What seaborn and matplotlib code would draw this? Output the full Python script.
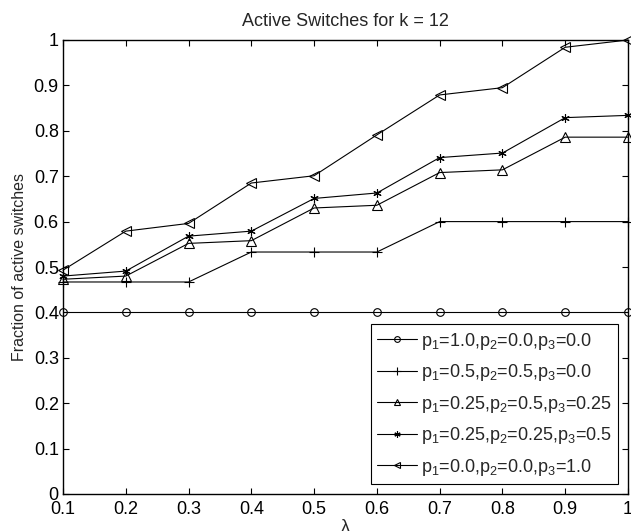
import matplotlib
matplotlib.use("Agg")
import matplotlib.pyplot as plt
import seaborn as sns
import pandas as pd
from matplotlib.ticker import FuncFormatter

lam = [0.1, 0.2, 0.3, 0.4, 0.5, 0.6, 0.7, 0.8, 0.9, 1.0]
s_circle = [0.4, 0.4, 0.4, 0.4, 0.4, 0.4, 0.4, 0.4, 0.4, 0.4]
s_plus = [0.467, 0.467, 0.467, 0.533, 0.533, 0.533, 0.6, 0.6, 0.6, 0.6]
s_tri = [0.473, 0.48, 0.552, 0.558, 0.630, 0.636, 0.708, 0.714, 0.786, 0.786]
s_star = [0.48, 0.491, 0.568, 0.579, 0.651, 0.663, 0.741, 0.751, 0.829, 0.834]
s_left = [0.493, 0.579, 0.596, 0.685, 0.701, 0.791, 0.879, 0.895, 0.984, 1.0]

labels = [r"p$_1$=1.0,p$_2$=0.0,p$_3$=0.0",
          r"p$_1$=0.5,p$_2$=0.5,p$_3$=0.0",
          r"p$_1$=0.25,p$_2$=0.5,p$_3$=0.25",
          r"p$_1$=0.25,p$_2$=0.25,p$_3$=0.5",
          r"p$_1$=0.0,p$_2$=0.0,p$_3$=1.0"]
series = [s_circle, s_plus, s_tri, s_star, s_left]
markers = ["o", "+", "^", (6, 2, 0), "<"]
msizes = [5.5, 7, 6.5, 6, 6.5]

sns.set_theme(style="ticks")
plt.rcParams["font.family"] = ["Liberation Sans", "DejaVu Sans"]
plt.rcParams["mathtext.fontset"] = "custom"
plt.rcParams["mathtext.rm"] = "Liberation Sans"
plt.rcParams["mathtext.it"] = "Liberation Sans:italic"
plt.rcParams["mathtext.bf"] = "Liberation Sans:bold"

fig = plt.figure(figsize=(6.31, 5.31), dpi=100)
ax = fig.add_axes([63/631, 1-494/531, 565/631, 454/531])

for lab, vals, m, ms in zip(labels, series, markers, msizes):
    df = pd.DataFrame({"lam": lam, "val": vals})
    sns.lineplot(data=df, x="lam", y="val", ax=ax, color="black", lw=0.8,
                 marker=m, markersize=ms, markerfacecolor="none",
                 markeredgecolor="black", markeredgewidth=0.8, label=lab,
                 clip_on=False)

ax.set_xlim(0.1, 1.0)
ax.set_ylim(0, 1)
ax.set_xticks(lam)
ax.set_yticks([i/10 for i in range(11)])
fmt = FuncFormatter(lambda v, p: ("%g" % round(v, 2)))
ax.xaxis.set_major_formatter(fmt)
ax.yaxis.set_major_formatter(fmt)
ax.tick_params(direction="in", length=4, width=0.8, top=True, right=True,
               labelsize=13, colors="black")
ax.tick_params(axis="x", pad=5)
ax.tick_params(axis="y", pad=3)
for sp in ax.spines.values():
    sp.set_linewidth(1.0)
    sp.set_color("black")
ax.set_xlabel("λ", fontsize=13, labelpad=1)
ax.set_ylabel("Fraction of active switches", fontsize=11.5, labelpad=5)
ax.set_title("Active Switches for k = 12", fontsize=13, pad=10)

leg = ax.legend(loc="lower right", bbox_to_anchor=(0.982, 0.022), fontsize=13,
                frameon=True, fancybox=False, edgecolor="black", framealpha=1,
                labelspacing=0.58, handlelength=2.2, handletextpad=0.22,
                borderpad=0.35, borderaxespad=0, markerscale=0.75)
leg.get_frame().set_linewidth(0.8)

fig.savefig("out.png", dpi=100)
